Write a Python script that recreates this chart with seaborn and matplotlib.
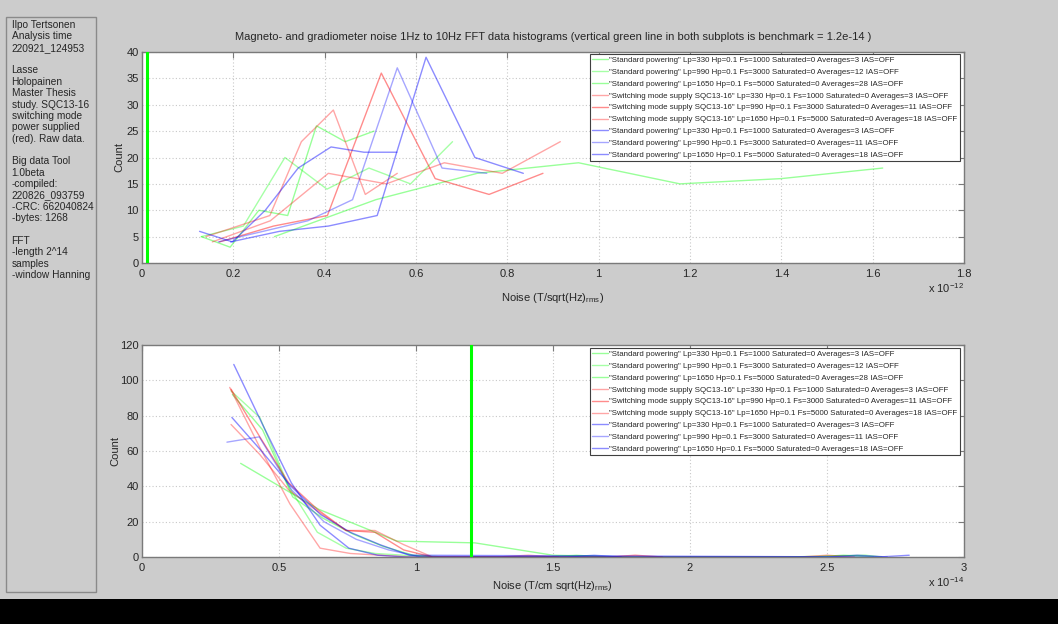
import matplotlib
matplotlib.use("Agg")
import matplotlib.pyplot as plt
from matplotlib.patches import Rectangle
from matplotlib.ticker import FuncFormatter
import pandas as pd
import seaborn as sns

# ---------------- legend labels (shared by both panels) ----------------
labels = [
    '"Standard powering" Lp=330 Hp=0.1 Fs=1000 Saturated=0 Averages=3 IAS=OFF',
    '"Standard powering" Lp=990 Hp=0.1 Fs=3000 Saturated=0 Averages=12 IAS=OFF',
    '"Standard powering" Lp=1650 Hp=0.1 Fs=5000 Saturated=0 Averages=28 IAS=OFF',
    '"Switching mode supply SQC13-16" Lp=330 Hp=0.1 Fs=1000 Saturated=0 Averages=3 IAS=OFF',
    '"Switching mode supply SQC13-16" Lp=990 Hp=0.1 Fs=3000 Saturated=0 Averages=11 IAS=OFF',
    '"Switching mode supply SQC13-16" Lp=1650 Hp=0.1 Fs=5000 Saturated=0 Averages=18 IAS=OFF',
    '"Standard powering" Lp=330 Hp=0.1 Fs=1000 Saturated=0 Averages=3 IAS=OFF',
    '"Standard powering" Lp=990 Hp=0.1 Fs=3000 Saturated=0 Averages=11 IAS=OFF',
    '"Standard powering" Lp=1650 Hp=0.1 Fs=5000 Saturated=0 Averages=18 IAS=OFF',
]

# ---------------- magnetometer histograms (noise in 1e-12 T/sqrt(Hz)) ----------------
mag_x = [
    [0.290, 0.512, 0.734, 0.956, 1.178, 1.400, 1.622],
    [0.130, 0.222, 0.313, 0.405, 0.497, 0.588, 0.680],
    [0.130, 0.193, 0.256, 0.319, 0.382, 0.445, 0.508],
    [0.140, 0.210, 0.280, 0.349, 0.419, 0.489, 0.559],
    [0.170, 0.288, 0.406, 0.524, 0.642, 0.760, 0.878],
    [0.154, 0.281, 0.408, 0.535, 0.662, 0.789, 0.916],
    [0.194, 0.301, 0.408, 0.515, 0.622, 0.729, 0.835],
    [0.167, 0.265, 0.363, 0.461, 0.559, 0.657, 0.755],
    [0.126, 0.198, 0.270, 0.342, 0.414, 0.486, 0.558],
]
mag_count = [
    [5, 12, 17, 19, 15, 16, 18],
    [5, 7, 20, 14, 18, 15, 23],
    [5, 3, 10, 9, 26, 23, 25],
    [5, 7, 9, 23, 29, 13, 17],
    [4, 7, 9, 36, 16, 13, 17],
    [4, 8, 17, 15, 19, 17, 23],
    [4, 6, 7, 9, 39, 20, 17],
    [4, 6, 8, 12, 37, 18, 17],
    [6, 4, 10, 18, 22, 21, 21],
]

# ---------------- gradiometer histograms (noise in 1e-14 T/cm sqrt(Hz)) ----------------
grad_x = [
    [0.360, 0.645, 0.930, 1.215, 1.500, 1.785, 2.070, 2.355, 2.640, 2.700],
    [0.325, 0.430, 0.535, 0.640, 0.745, 0.850, 0.955, 1.060, 1.480, 1.585, 1.690],
    [0.330, 0.440, 0.550, 0.660, 0.770, 0.880, 0.990, 1.100, 2.450, 2.560, 2.670],
    [0.320, 0.430, 0.540, 0.650, 0.760, 0.870, 0.980, 1.300, 1.410, 1.520],
    [0.325, 0.430, 0.535, 0.640, 0.745, 0.850, 0.955, 1.060, 1.700, 1.800, 1.900],
    [0.325, 0.430, 0.535, 0.640, 0.745, 0.850, 0.955, 1.060, 2.400, 2.500, 2.600],
    [0.335, 0.440, 0.545, 0.650, 0.755, 0.860, 0.965, 2.500, 2.610, 2.720],
    [0.310, 0.428, 0.546, 0.664, 0.782, 0.900, 1.018, 1.550, 1.650, 1.750],
    [0.328, 0.436, 0.544, 0.652, 0.760, 0.868, 0.976, 2.690, 2.800],
]
grad_count = [
    [53, 27, 9, 8, 1, 0, 0, 0, 1, 0],
    [94, 79, 40, 14, 5, 2, 1, 0, 0, 1, 0],
    [92, 72, 34, 22, 13, 6, 1, 0, 0, 1, 0],
    [96, 62, 30, 5, 2, 1, 0, 0, 1, 0],
    [95, 68, 42, 27, 15, 14, 4, 0, 0, 1, 0],
    [75, 58, 38, 26, 15, 15, 7, 0, 0, 1, 0],
    [109, 75, 42, 18, 5, 1, 0, 0, 1, 0],
    [65, 68, 38, 20, 10, 4, 0, 0, 1, 0],
    [79, 60, 40, 24, 14, 7, 1, 0, 1],
]

benchmark = 1.2e-14

series_color = ["#00ff00"] * 3 + ["#ff0000"] * 3 + ["#0000ff"] * 3
series_alpha = [0.40, 0.35, 0.40, 0.35, 0.45, 0.35, 0.45, 0.35, 0.45]

left_note = (
    "Ilpo Tertsonen\nAnalysis time\n220921_124953\n\n"
    "Lasse\nHolopainen\nMaster Thesis\nstudy. SQC13-16\nswitching mode\n"
    "power supplied\n(red). Raw data.\n\n"
    "Big data Tool\n1.0beta\n-compiled:\n220826_093759\n-CRC: 662040824\n-bytes: 1268\n\n"
    "FFT\n-length 2^14\nsamples\n-window Hanning"
)

title = ("Magneto- and gradiometer noise 1Hz to 10Hz FFT data histograms "
         "(vertical green line in both subplots is benchmark = 1.2e-14 )")

# ---------------- style ----------------
sns.set_style("white")
plt.rcParams["font.family"] = ["Liberation Sans", "DejaVu Sans"]
plt.rcParams["mathtext.fontset"] = "custom"
plt.rcParams["mathtext.rm"] = "Liberation Sans"
plt.rcParams["mathtext.it"] = "Liberation Sans"

BG = "#cccccc"
FRAME = "#7a7a7a"
TXT = "#262626"

W, H = 1058, 624
fig = plt.figure(figsize=(W / 100, H / 100), dpi=100, facecolor=BG)


def px_axes(left, top, right, bottom):
    return fig.add_axes([left / W, 1 - bottom / H, (right - left) / W, (bottom - top) / H])


def tidy(v, pos):
    s = f"{v:.1f}"
    return s[:-2] if s.endswith(".0") else s


def draw_panel(ax, xs, ys, scale, xmax, ymax, ystep, xstep, xlabel, exp_txt,
               ylab_x, xlab_y, leg_anchor):
    frames = []
    for i, (xv, yv) in enumerate(zip(xs, ys)):
        frames.append(pd.DataFrame({"noise": xv, "count": yv, "series": i}))
    df = pd.concat(frames, ignore_index=True)
    for i in range(len(xs)):
        sub = df[df["series"] == i]
        sns.lineplot(data=sub, x="noise", y="count", ax=ax, color=series_color[i],
                     alpha=series_alpha[i], lw=1.0, sort=False, estimator=None,
                     label=labels[i])
    ax.axvline(benchmark / scale, color="#00ff00", lw=2.2, zorder=5)
    ax.set_xlim(0, xmax)
    ax.set_ylim(0, ymax)
    ax.set_xticks([k * xstep for k in range(int(round(xmax / xstep)) + 1)])
    ax.set_yticks(list(range(0, ymax + 1, ystep)))
    ax.xaxis.set_major_formatter(FuncFormatter(tidy))
    ax.set_facecolor("white")
    ax.grid(True, color="#c8c8c8", ls=(0, (1, 2)), lw=0.8)
    for s in ax.spines.values():
        s.set_color(FRAME)
        s.set_linewidth(1.0)
    ax.tick_params(direction="in", length=4, width=0.8, color=FRAME, top=True, right=True,
                   labelsize=8, labelcolor=TXT)
    ax.tick_params(axis="x", pad=4)
    ax.tick_params(axis="y", pad=2.5)
    ax.set_xlabel(xlabel, fontsize=8, color=TXT)
    ax.xaxis.set_label_coords(0.5, xlab_y)
    ax.set_ylabel("Count", fontsize=8, color=TXT)
    ax.yaxis.set_label_coords(ylab_x, 0.5)
    ax.text(1.0, -0.085, exp_txt, transform=ax.transAxes, ha="right", va="top",
            fontsize=8, color=TXT)
    leg = ax.legend(loc="upper right", bbox_to_anchor=(leg_anchor[0] / W, 1 - leg_anchor[1] / H),
                    bbox_transform=fig.transFigure, fontsize=5.65, frameon=True,
                    fancybox=False, framealpha=1, edgecolor="#404040", handlelength=2.0,
                    handletextpad=0.15, labelspacing=0.55, borderpad=0.35,
                    borderaxespad=0)
    leg.get_frame().set_linewidth(0.8)
    for t in leg.get_texts():
        t.set_color(TXT)


ax1 = px_axes(142, 52, 964, 263)
draw_panel(ax1, mag_x, mag_count, 1e-12, 1.8, 40, 5, 0.2,
           "Noise (T/sqrt(Hz)$_{\\mathrm{rms}}$)", "x 10$^{-12}$",
           -0.0215, -0.135, (960, 54))
ax1.set_title(title, fontsize=8, color=TXT, pad=9)

ax2 = px_axes(142, 345, 964, 557)
draw_panel(ax2, grad_x, grad_count, 1e-14, 3.0, 120, 20, 0.5,
           "Noise (T/cm sqrt(Hz)$_{\\mathrm{rms}}$)", "x 10$^{-14}$",
           -0.026, -0.105, (960, 348))

# information panel on the left
fig.patches.append(Rectangle((6 / W, 1 - 592 / H), 90 / W, 575 / H, transform=fig.transFigure,
                             facecolor=BG, edgecolor="#8a8a8a", lw=1.0, zorder=0))
fig.text(11.5 / W, 1 - 20 / H, left_note, ha="left", va="top", fontsize=7.3,
         color=TXT, linespacing=1.17)

# dark strip along the bottom edge
fig.patches.append(Rectangle((0, 0), 1, 25 / H, transform=fig.transFigure,
                             facecolor="black", edgecolor="none", zorder=0))

fig.savefig("out.png", dpi=100, facecolor=BG)
